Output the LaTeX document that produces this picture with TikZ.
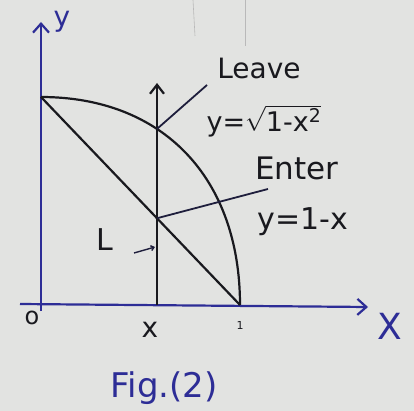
\documentclass[tikz,border=0pt]{standalone}
\usepackage{fontspec}
\setmainfont{DejaVu Sans}
\setsansfont{DejaVu Sans}
\usetikzlibrary{arrows.meta,intersections}
\definecolor{paper}{RGB}{226,227,225}
\definecolor{ink}{RGB}{25,25,30}
\definecolor{pen}{RGB}{45,45,150}
\tikzset{
  axis/.style={draw=pen, line width=2.2pt, -{Straight Barb[length=9pt,width=16pt,line width=2.2pt]}},
  varrow/.style={draw=ink, line width=2.2pt, -{Straight Barb[length=9pt,width=14pt,line width=2.2pt]}},
  curve/.style={draw=ink, line width=2.2pt},
  leader/.style={draw=ink!75!pen, line width=1.8pt},
  lbl/.style={inner sep=0pt, text=ink, font=\fontsize{#1}{#1}\selectfont},
  blbl/.style={inner sep=0pt, text=pen, font=\fontsize{#1}{#1}\selectfont},
  faint/.style={draw=gray!55, line width=0.6pt}
}
\begin{document}
\begin{tikzpicture}[x=1pt,y=-1pt]
\fill[paper] (0,0) rectangle (414,411);
\useasboundingbox (0,0) rectangle (414,411);
% paper artefacts
\coordinate (f1a) at (193,0); \coordinate (f1b) at (195,36);
\coordinate (f2a) at (245,0); \coordinate (f2b) at (245,46);
\draw[faint] (f1a) -- (f1b);
\draw[faint] (f2a) -- (f2b);
% key points
\coordinate (ybot) at (41,311);
\coordinate (ytop) at (41,22);
\coordinate (xleft) at (20,304);
\coordinate (xright) at (368,307);
\coordinate (A) at (41,97);
\coordinate (B) at (240,305);
\coordinate (vb) at (157,305);
\coordinate (vt) at (157,83);
\coordinate (leaveend) at (207,85);
\coordinate (enterend) at (268,189);
\coordinate (Ltail) at (134,253);
\coordinate (Ltip) at (155,247);
% axes
\draw[axis] (ybot) -- (ytop);
\draw[axis] (xleft) -- (xright);
% curves
\draw[curve, name path=arc] (A) .. controls (163,97) and (240,178) .. (B);
\draw[curve, name path=diag] (A) -- (B);
\draw[varrow, name path=vline] (vb) -- (vt);
\path[name intersections={of=arc and vline, by=P}];
\path[name intersections={of=diag and vline, by=Q}];
% leaders
\draw[leader] (P) -- (leaveend);
\draw[leader] (Q) -- (enterend);
\draw[leader, line width=1.4pt, -{Straight Barb[length=3pt,width=5pt]}] (Ltail) -- (Ltip);
% labels
\node[lbl=28] (leave) at (259,68) {Leave};
\node[lbl=27] (leq) at (264,121) {y=$\sqrt{\mbox{1-x\textsuperscript{2}}}$};
\node[lbl=31] (enter) at (297,168) {Enter};
\node[lbl=30] (eeq) at (303,222) {y=1-x};
\node[lbl=30] (L) at (105,240) {L};
\node[blbl=28] (ylab) at (62,22) {y};
\node[blbl=36] (xlab) at (390,326) {X};
\node[lbl=24] (olab) at (32,318) {o};
\node[lbl=28] (xtick) at (150,330) {x};
\node[lbl=11] (one) at (240,325) {1};
\node[blbl=34] (fig) at (164,388) {Fig.(2)};
\end{tikzpicture}
\end{document}
